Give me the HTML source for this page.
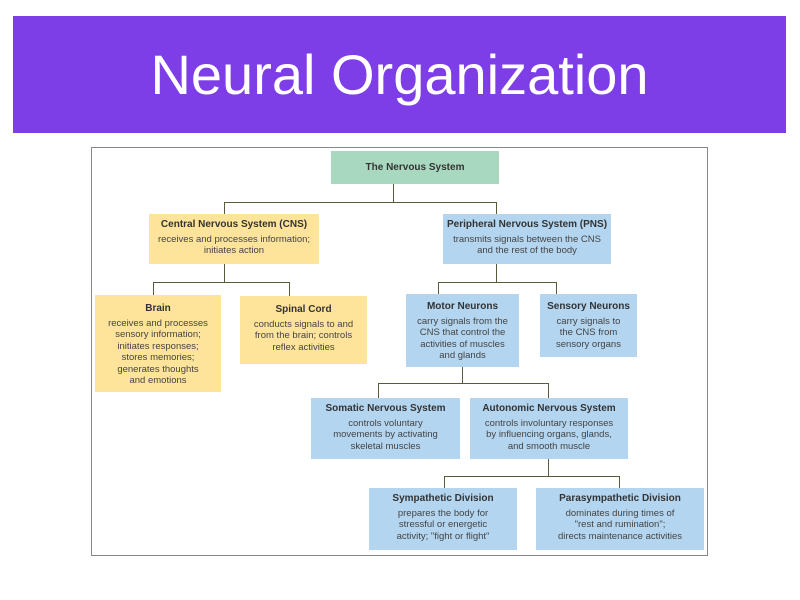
<!DOCTYPE html>
<html><head><style>
body{margin:0;width:800px;height:600px;background:#fff;position:relative;overflow:hidden;font-family:"Liberation Sans",sans-serif}
.hdr{position:absolute;left:13px;top:16px;width:773px;height:117px;background:#7d3ee8;color:#fff;font-size:56px;text-align:center;line-height:117px}
.frame{position:absolute;left:91px;top:147px;width:617px;height:409px;border:1px solid #888;box-sizing:border-box}
.b{position:absolute;box-sizing:border-box;text-align:center;font-size:9.5px;line-height:11.5px;color:#444;padding-top:5px}
.b b{display:block;color:#333;font-size:10px;margin-bottom:3px}
.y{background:#fde49a}.bl{background:#b3d5ef}.g{background:#a8d8bf}
.l{position:absolute;background:#5a5a3a}
</style></head><body>
<div class="hdr">Neural Organization</div>
<div class="frame"></div>
<!-- lines -->
<div class="l" style="left:393px;top:184px;width:1px;height:19px"></div>
<div class="l" style="left:224px;top:202px;width:273px;height:1px"></div>
<div class="l" style="left:224px;top:202px;width:1px;height:12px"></div>
<div class="l" style="left:496px;top:202px;width:1px;height:12px"></div>
<div class="l" style="left:224px;top:264px;width:1px;height:18px"></div>
<div class="l" style="left:153px;top:282px;width:136px;height:1px"></div>
<div class="l" style="left:153px;top:282px;width:1px;height:13px"></div>
<div class="l" style="left:289px;top:282px;width:1px;height:14px"></div>
<div class="l" style="left:496px;top:264px;width:1px;height:18px"></div>
<div class="l" style="left:438px;top:282px;width:119px;height:1px"></div>
<div class="l" style="left:438px;top:282px;width:1px;height:12px"></div>
<div class="l" style="left:556px;top:282px;width:1px;height:12px"></div>
<div class="l" style="left:462px;top:367px;width:1px;height:16px"></div>
<div class="l" style="left:378px;top:383px;width:171px;height:1px"></div>
<div class="l" style="left:378px;top:383px;width:1px;height:15px"></div>
<div class="l" style="left:548px;top:383px;width:1px;height:15px"></div>
<div class="l" style="left:548px;top:459px;width:1px;height:17px"></div>
<div class="l" style="left:444px;top:476px;width:176px;height:1px"></div>
<div class="l" style="left:444px;top:476px;width:1px;height:12px"></div>
<div class="l" style="left:619px;top:476px;width:1px;height:12px"></div>
<!-- boxes -->
<div class="b g" style="left:331px;top:151px;width:168px;height:33px;padding-top:11px"><b>The Nervous System</b></div>
<div class="b y" style="left:149px;top:214px;width:170px;height:50px"><b>Central Nervous System (CNS)</b>receives and processes information;<br>initiates action</div>
<div class="b bl" style="left:443px;top:214px;width:168px;height:50px"><b>Peripheral Nervous System (PNS)</b>transmits signals between the CNS<br>and the rest of the body</div>
<div class="b y" style="left:95px;top:295px;width:126px;height:97px;padding-top:8px"><b>Brain</b>receives and processes<br>sensory information;<br>initiates responses;<br>stores memories;<br>generates thoughts<br>and emotions</div>
<div class="b y" style="left:240px;top:296px;width:127px;height:68px;padding-top:8px"><b>Spinal Cord</b>conducts signals to and<br>from the brain; controls<br>reflex activities</div>
<div class="b bl" style="left:406px;top:294px;width:113px;height:73px;padding-top:7px"><b>Motor Neurons</b>carry signals from the<br>CNS that control the<br>activities of muscles<br>and glands</div>
<div class="b bl" style="left:540px;top:294px;width:97px;height:63px;padding-top:7px"><b>Sensory Neurons</b>carry signals to<br>the CNS from<br>sensory organs</div>
<div class="b bl" style="left:311px;top:398px;width:149px;height:61px"><b>Somatic Nervous System</b>controls voluntary<br>movements by activating<br>skeletal muscles</div>
<div class="b bl" style="left:470px;top:398px;width:158px;height:61px"><b>Autonomic Nervous System</b>controls involuntary responses<br>by influencing organs, glands,<br>and smooth muscle</div>
<div class="b bl" style="left:369px;top:488px;width:148px;height:62px"><b>Sympathetic Division</b>prepares the body for<br>stressful or energetic<br>activity; "fight or flight"</div>
<div class="b bl" style="left:536px;top:488px;width:168px;height:62px"><b>Parasympathetic Division</b>dominates during times of<br>"rest and rumination";<br>directs maintenance activities</div>
</body></html>
